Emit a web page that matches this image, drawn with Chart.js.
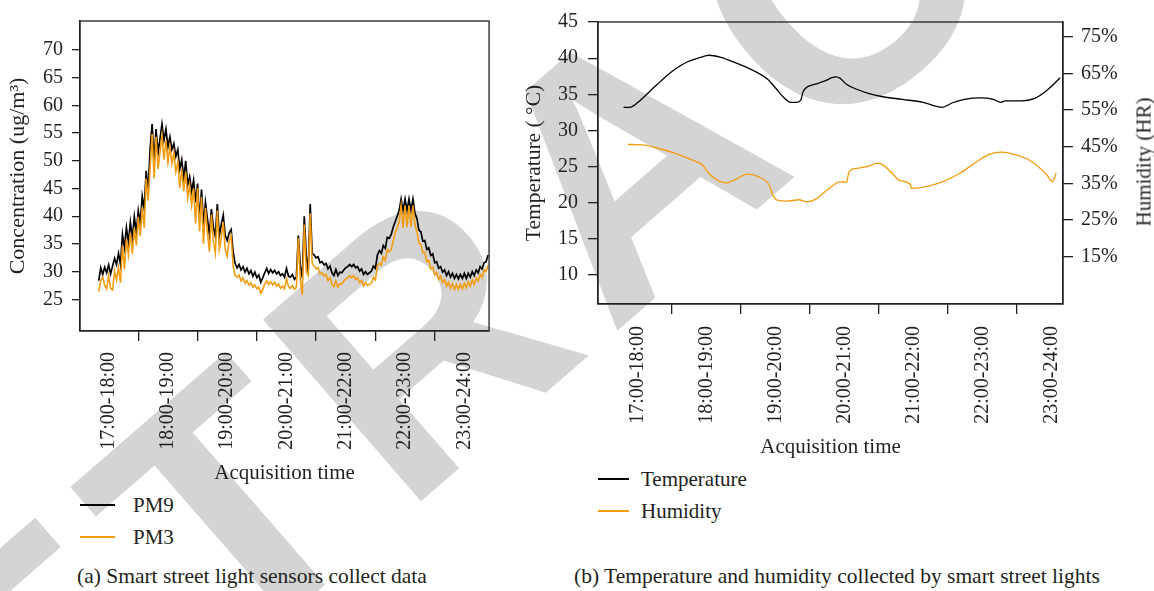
<!DOCTYPE html>
<html>
<head>
<meta charset="utf-8">
<script src="https://cdn.jsdelivr.net/npm/chart.js@4.4.1/dist/chart.umd.min.js"></script>
<style>
  body { margin: 0; width: 1154px; height: 591px; background: #fff; position: relative; overflow: hidden;
         font-family: "Liberation Serif", "Times New Roman", serif; color: #231f20; }
  #stamp { position: absolute; left: 635px; top: 155px; transform: translate(-50%, -50%) rotate(-41deg);
           font: bold 350px "Liberation Sans", Arial, sans-serif; letter-spacing: 22px; line-height: 1;
           color: #d4d4d4; white-space: nowrap; z-index: 0; }
  canvas { position: absolute; top: 0; z-index: 1; }
  #chartA { left: 0; }
  #chartB { left: 505px; }
  .legend { position: absolute; z-index: 1; font-size: 21px; }
  .legend div { height: 32px; display: flex; align-items: center; white-space: nowrap; }
  .legend span.line { display: inline-block; height: 1.6px; }
  .caption { position: absolute; z-index: 1; font-size: 21.5px; white-space: nowrap; line-height: 24px; }
  #humTitle { position: absolute; z-index: 1; left: 1144px; top: 162px; font-size: 21px; white-space: nowrap;
              transform: translate(-50%, -50%) rotate(-90deg); }
</style>
</head>
<body>
<div id="stamp">RETRACTED</div>
<canvas id="chartA" width="500" height="486"></canvas>
<canvas id="chartB" width="649" height="460"></canvas>
<div id="legendA" class="legend" style="left:80px; top:489px;"></div>
<div id="legendB" class="legend" style="left:598px; top:463px;"></div>
<div class="caption" style="left:77px; top:564px;">(a) Smart street light sensors collect data</div>
<div class="caption" style="left:574px; top:564px;">(b) Temperature and humidity collected by smart street lights</div>
<div id="humTitle">Humidity (HR)</div>
<script>
// axes
const hourLabels = ["17:00-18:00", "18:00-19:00", "19:00-20:00", "20:00-21:00", "21:00-22:00", "22:00-23:00", "23:00-24:00"];
const hourMids = [17.5, 18.5, 19.5, 20.5, 21.5, 22.5, 23.5];
const hourEdges = [18, 19, 20, 21, 22, 23];
const concTicks = [25, 30, 35, 40, 45, 50, 55, 60, 65, 70];
const tempTicks = [10, 15, 20, 25, 30, 35, 40, 45];
const humTicks = [15, 25, 35, 45, 55, 65, 75];

// (a) one sample every 2 minutes from 17:20
const sampleStart = 17 + 20 / 60;
const sampleStep = 2 / 60;
const pm9 = [
  28.4, 30.7, 29.5, 30.8, 29.8, 31.2, 29.6, 31.0, 32.4, 31.3,
  33.3, 31.3, 36.7, 34.3, 37.9, 35.3, 38.9, 36.0, 39.9, 37.0,
  41.0, 38.6, 43.6, 41.3, 48.2, 44.5, 52.2, 56.6, 49.7, 55.7,
  51.4, 54.0, 56.6, 53.7, 55.7, 52.5, 54.3, 52.0, 53.1, 50.8,
  52.0, 48.5, 50.2, 46.8, 50.0, 45.6, 47.1, 44.5, 46.5, 42.5,
  45.9, 39.0, 44.8, 38.4, 42.5, 39.5, 36.7, 41.3, 38.0, 36.4,
  42.2, 36.4, 38.5, 40.2, 36.5, 35.6, 37.0, 37.6, 33.5, 31.5,
  30.7, 31.3, 30.3, 30.9, 29.9, 30.6, 29.6, 30.2, 29.2, 29.9,
  28.9, 29.4, 28.1, 28.9, 29.8, 30.6, 29.7, 30.4, 29.8, 30.2,
  29.6, 30.0, 29.3, 29.6, 29.0, 30.6, 29.2, 29.0, 29.5, 28.6,
  29.0, 36.5, 31.0, 29.0, 40.0, 33.0, 30.0, 42.2, 33.3, 33.0,
  32.5, 32.7, 31.6, 31.8, 31.2, 31.5, 30.5, 31.0, 29.8, 29.3,
  30.4, 29.3, 29.9, 29.8, 30.3, 30.7, 30.9, 31.3, 30.9, 31.3,
  30.7, 30.9, 30.1, 30.5, 29.5, 30.0, 29.5, 29.8, 30.1, 31.0,
  30.6, 33.0, 33.8, 33.3, 34.7, 34.2, 36.2, 36.0, 36.7, 38.0,
  39.0, 40.0, 41.0, 43.1, 41.0, 43.1, 41.0, 43.1, 41.0, 43.1,
  40.5, 39.6, 37.5, 37.2, 35.5, 35.6, 34.0, 34.3, 32.9, 33.2,
  31.6, 31.8, 30.6, 30.9, 29.9, 30.3, 29.3, 30.0, 29.0, 29.7,
  28.8, 29.5, 28.7, 29.5, 28.8, 29.7, 28.8, 29.7, 29.0, 30.0,
  29.3, 30.3, 29.8, 30.9, 30.5, 31.6, 31.8, 33.0
];
const pm3 = [
  26.4, 28.4, 29.0, 27.5, 26.9, 29.3, 27.0, 26.7, 30.1, 28.5,
  30.7, 28.0, 34.7, 30.4, 35.9, 33.0, 37.0, 33.2, 37.9, 34.7,
  39.9, 36.4, 41.6, 37.9, 46.8, 42.8, 48.8, 54.8, 46.8, 54.3,
  48.5, 51.5, 54.5, 50.2, 53.7, 49.7, 52.5, 49.5, 51.4, 48.0,
  49.7, 45.1, 48.5, 44.5, 48.0, 43.3, 45.6, 42.0, 45.0, 38.7,
  45.1, 37.3, 43.5, 35.0, 41.5, 37.0, 33.6, 40.3, 35.5, 33.3,
  41.0, 34.0, 36.0, 39.0, 34.0, 32.8, 35.5, 36.5, 31.0, 29.3,
  29.0, 29.4, 28.3, 28.9, 27.9, 28.4, 27.6, 28.0, 27.2, 27.6,
  26.9, 27.2, 26.1, 26.8, 27.8, 28.4, 27.7, 28.2, 27.6, 28.1,
  27.4, 27.8, 27.0, 27.4, 26.9, 28.7, 27.3, 27.0, 27.5, 26.8,
  27.2, 36.0, 28.5, 25.8, 38.5, 30.0, 29.3, 40.5, 31.5, 31.0,
  30.5, 30.7, 29.6, 29.8, 29.2, 29.5, 28.4, 28.9, 27.7, 27.3,
  28.3, 27.2, 27.8, 27.8, 28.3, 28.7, 28.9, 29.3, 28.9, 29.3,
  28.6, 28.9, 28.0, 28.4, 27.4, 28.0, 27.5, 27.7, 28.0, 29.0,
  28.5, 31.0, 31.5, 31.2, 32.7, 32.0, 34.0, 33.6, 34.0, 35.5,
  37.0, 37.9, 39.0, 41.9, 37.9, 41.9, 38.0, 41.9, 38.0, 41.9,
  38.5, 37.2, 35.2, 35.0, 33.4, 33.5, 31.8, 32.0, 30.5, 30.8,
  29.4, 29.9, 28.6, 29.2, 28.0, 28.6, 27.4, 28.1, 27.0, 27.8,
  26.8, 27.7, 26.8, 27.7, 26.9, 27.9, 27.1, 28.2, 27.4, 28.5,
  27.7, 28.9, 28.3, 29.5, 29.0, 30.3, 30.0, 31.2
];

// (b) temperature and humidity, read at hour positions
const tempHours = [17.30, 17.39, 17.51, 17.69, 17.87, 18.05, 18.23, 18.41, 18.54, 18.71,
  18.89, 19.07, 19.24, 19.39, 19.51, 19.63, 19.72, 19.81, 19.87, 19.90,
  19.96, 20.08, 20.23, 20.32, 20.38, 20.44, 20.53, 20.68, 20.86, 21.04,
  21.34, 21.64, 21.92, 22.06, 22.24, 22.48, 22.66, 22.77, 22.83, 23.07,
  23.25, 23.43, 23.63];
const tempValues = [33.2, 33.2, 33.9, 35.5, 37.1, 38.5, 39.5, 40.1, 40.4, 40.1,
  39.5, 38.8, 38.0, 37.1, 35.8, 34.5, 33.9, 33.9, 34.2, 35.3,
  36.0, 36.4, 36.9, 37.3, 37.4, 37.2, 36.4, 35.7, 35.1, 34.7,
  34.3, 33.9, 33.2, 33.8, 34.3, 34.5, 34.3, 33.9, 34.1, 34.1,
  34.4, 35.5, 37.3];
const humHours = [17.36, 17.57, 17.81, 18.05, 18.29, 18.45, 18.53, 18.65, 18.80, 18.92,
  19.10, 19.24, 19.42, 19.46, 19.54, 19.66, 19.84, 19.96, 20.08, 20.26,
  20.44, 20.53, 20.57, 20.68, 20.86, 20.97, 21.07, 21.19, 21.31, 21.46,
  21.47, 21.64, 21.94, 22.18, 22.42, 22.60, 22.78, 22.96, 23.22, 23.43,
  23.52, 23.57];
const humValues = [45.6, 45.5, 44.5, 43.2, 41.4, 39.9, 37.8, 36.0, 35.1, 36.0,
  37.5, 36.9, 34.2, 31.9, 30.3, 30.1, 30.5, 29.9, 30.6, 33.3,
  35.4, 35.3, 38.2, 39.1, 39.7, 40.5, 39.9, 37.8, 35.7, 34.6,
  33.6, 33.9, 35.5, 37.8, 40.9, 42.9, 43.5, 42.9, 40.9, 37.4,
  35.4, 37.8];

const ink = "#231f20";
const orange = "#f39c12";
const serif = "'Liberation Serif', 'Times New Roman', serif";

Chart.defaults.font.family = serif;
Chart.defaults.color = ink;

const sampleTimes = pm9.map((_, i) => sampleStart + i * sampleStep);
const toPoints = (xs, ys) => ys.map((y, i) => ({ x: xs[i], y: y }));
const fixTicks = (values) => (axis) => { axis.ticks = values.map((v) => ({ value: v })); };

// box round the plot area
const frame = {
  id: "frame",
  afterDatasetsDraw(chart) {
    const { ctx, chartArea: a } = chart;
    ctx.save();
    ctx.strokeStyle = ink;
    ctx.lineWidth = 1.3;
    ctx.strokeRect(a.left, a.top, a.right - a.left, a.bottom - a.top);
    ctx.restore();
  },
};

function timeAxes(min, max, labelPad, labelBoxHeight) {
  return {
    x: {
      type: "linear", position: "bottom", min: min, max: max,
      afterBuildTicks: fixTicks(hourEdges),
      afterFit: (axis) => { axis.height = 10; },
      ticks: { display: false },
      grid: { drawOnChartArea: false, tickLength: 10, color: ink, lineWidth: 1.3 },
      border: { color: ink, width: 1.3 },
    },
    xLab: {
      type: "linear", position: "bottom", weight: 1, min: min, max: max,
      afterBuildTicks: fixTicks(hourMids),
      afterFit: (axis) => { axis.height = labelBoxHeight; },
      ticks: {
        autoSkip: false, minRotation: 90, maxRotation: 90, padding: labelPad,
        font: { size: 20 }, callback: (v, i) => hourLabels[i],
      },
      grid: { display: false, drawTicks: false },
      border: { display: false },
      title: { display: true, text: "Acquisition time", font: { size: 21 }, padding: { top: 0, bottom: 0 } },
    },
  };
}

function valueAxis(min, max, ticks, width, tickLen, pad, position) {
  return {
    type: "linear", position: position, min: min, max: max,
    afterBuildTicks: fixTicks(ticks),
    afterFit: (axis) => { axis.width = width; },
    ticks: { padding: pad, font: { size: 20 } },
    grid: { drawOnChartArea: false, tickLength: tickLen, color: ink, lineWidth: 1.3 },
    border: { color: ink, width: 1.3 },
  };
}

const baseOptions = {
  responsive: false,
  animation: false,
  events: [],
  plugins: { legend: { display: false }, tooltip: { enabled: false } },
  elements: { point: { radius: 0 } },
};

// (a) concentration
const yConc = valueAxis(19.3, 75.2, concTicks, 80, 8, 9, "left");
yConc.title = { display: true, text: "Concentration (ug/m³)", font: { size: 22 }, padding: { top: 5, bottom: 0 } };

const chartA = new Chart(document.getElementById("chartA"), {
  type: "line",
  data: {
    datasets: [
      { label: "PM9", data: toPoints(sampleTimes, pm9), borderColor: "#000", borderWidth: 1.7, order: 1 },
      { label: "PM3", data: toPoints(sampleTimes, pm3), borderColor: orange, borderWidth: 1.6, order: 0 },
    ],
  },
  options: Object.assign({}, baseOptions, {
    layout: { padding: { top: 7, right: 6, left: 0, bottom: 0 } },
    scales: Object.assign(timeAxes(17.017, 23.917, 11, 145), { y: yConc }),
  }),
  plugins: [frame],
});

// (b) temperature and humidity
const yTemp = valueAxis(6.01, 45, tempTicks, 93, 10, 10, "left");
yTemp.title = { display: true, text: "Temperature ( °C)", font: { size: 21.5 }, padding: { top: 16, bottom: 0 } };
const yHum = valueAxis(2.03, 79.05, humTicks, 91, 10, 8, "right");
yHum.ticks.callback = (v) => v + "%";

const chartB = new Chart(document.getElementById("chartB"), {
  type: "line",
  data: {
    datasets: [
      { label: "Temperature", data: toPoints(tempHours, tempValues), borderColor: "#000", borderWidth: 1.3,
        cubicInterpolationMode: "monotone", yAxisID: "y" },
      { label: "Humidity", data: toPoints(humHours, humValues), borderColor: orange, borderWidth: 1.3,
        cubicInterpolationMode: "monotone", yAxisID: "y2" },
    ],
  },
  options: Object.assign({}, baseOptions, {
    layout: { padding: { top: 19, right: 0, left: 0, bottom: 0 } },
    scales: Object.assign(timeAxes(16.93, 23.67, 12, 146), { y: yTemp, y2: yHum }),
  }),
  plugins: [frame],
});

// legends below each panel, one row per series
function buildLegend(chart, id, lineWidth, gap) {
  const box = document.getElementById(id);
  chart.data.datasets.forEach((ds) => {
    const row = document.createElement("div");
    row.innerHTML = `<span class="line" style="width:${lineWidth}px;background:${ds.borderColor};margin-right:${gap}px"></span>${ds.label}`;
    box.appendChild(row);
  });
}
buildLegend(chartA, "legendA", 35, 18);
buildLegend(chartB, "legendB", 31, 12);
</script>
</body>
</html>
